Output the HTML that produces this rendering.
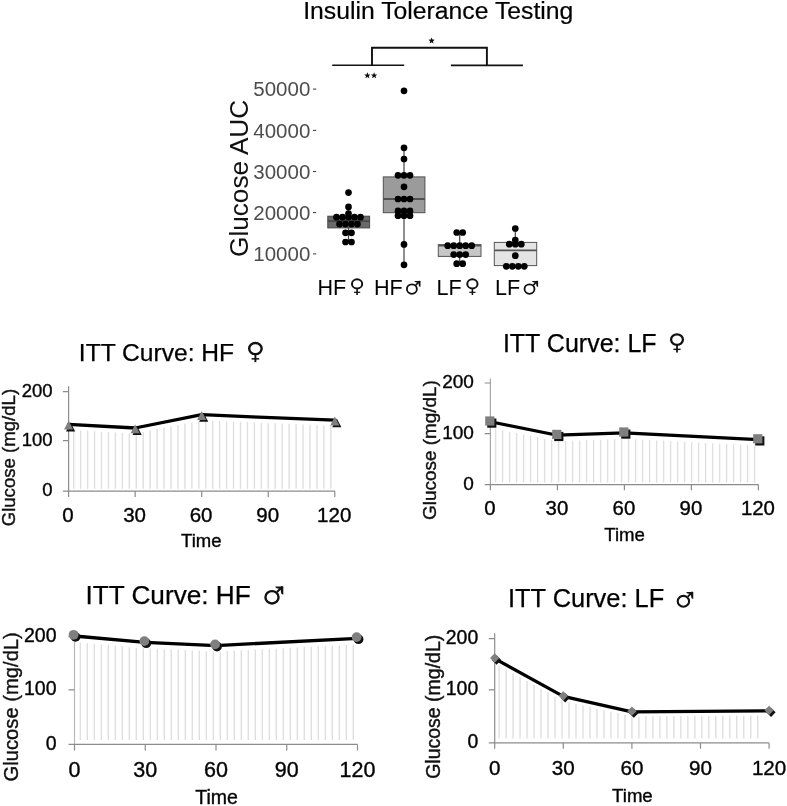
<!DOCTYPE html>
<html><head><meta charset="utf-8"><title>Insulin Tolerance Testing</title>
<style>
html,body{margin:0;padding:0;background:#fff;}
body{width:787px;height:806px;overflow:hidden;font-family:"Liberation Sans",sans-serif;}
svg{display:block;filter:blur(0.45px);}
svg text{font-family:"Liberation Sans",sans-serif;}
</style></head><body>
<svg width="787" height="806" viewBox="0 0 787 806">
<rect width="787" height="806" fill="#fff"/>
<g id="top">
<text x="438.3" y="18.6" font-size="24.75" text-anchor="middle" fill="#000" stroke="#000" stroke-width="0.2">Insulin Tolerance Testing</text>
<g stroke="#111" stroke-width="1.6" fill="none"><path d="M332.2 65.3H404.2"/><path d="M450.9 65.4H522.9"/><path d="M372 65.3V47.8H486.9V65.3" stroke-width="1.9"/></g>
<polygon points="431.60,37.50 432.48,39.59 434.74,39.78 433.03,41.26 433.54,43.47 431.60,42.30 429.66,43.47 430.17,41.26 428.46,39.78 430.72,39.59" fill="#111"/>
<polygon points="367.40,72.30 368.28,74.39 370.54,74.58 368.83,76.06 369.34,78.27 367.40,77.10 365.46,78.27 365.97,76.06 364.26,74.58 366.52,74.39" fill="#111"/>
<polygon points="374.10,72.30 374.98,74.39 377.24,74.58 375.53,76.06 376.04,78.27 374.10,77.10 372.16,78.27 372.67,76.06 370.96,74.58 373.22,74.39" fill="#111"/>
<text transform="translate(247.6,178.4) rotate(-90)" font-size="26.2" text-anchor="middle" fill="#111">Glucose AUC</text>
<text x="310.3" y="96.39999999999999" font-size="20.5" text-anchor="end" fill="#4d4d4d" >50000</text>
<path d="M313 89.1H316.2" stroke="#444" stroke-width="1.1"/>
<text x="310.3" y="137.70000000000002" font-size="20.5" text-anchor="end" fill="#4d4d4d" >40000</text>
<path d="M313 130.4H316.2" stroke="#444" stroke-width="1.1"/>
<text x="310.3" y="178.8" font-size="20.5" text-anchor="end" fill="#4d4d4d" >30000</text>
<path d="M313 171.5H316.2" stroke="#444" stroke-width="1.1"/>
<text x="310.3" y="219.9" font-size="20.5" text-anchor="end" fill="#4d4d4d" >20000</text>
<path d="M313 212.6H316.2" stroke="#444" stroke-width="1.1"/>
<text x="310.3" y="261.2" font-size="20.5" text-anchor="end" fill="#4d4d4d" >10000</text>
<path d="M313 253.9H316.2" stroke="#444" stroke-width="1.1"/>
<path d="M348.5 206.9V216.2M348.5 227.9V242" stroke="#444" stroke-width="1.2"/>
<rect x="327.8" y="216.2" width="41.80000000000001" height="11.700000000000017" fill="#6a6a6a" stroke="#474747" stroke-width="1"/>
<path d="M327.8 221.2H369.6" stroke="#474747" stroke-width="1.8"/>
<circle cx="348.5" cy="192.6" r="3.35" fill="#000"/>
<circle cx="348.5" cy="206.9" r="3.35" fill="#000"/>
<circle cx="348.5" cy="213.5" r="3.35" fill="#000"/>
<circle cx="336.5" cy="217.2" r="3.35" fill="#000"/>
<circle cx="342.5" cy="217.2" r="3.35" fill="#000"/>
<circle cx="348.5" cy="217.2" r="3.35" fill="#000"/>
<circle cx="354.5" cy="217.2" r="3.35" fill="#000"/>
<circle cx="360.5" cy="217.2" r="3.35" fill="#000"/>
<circle cx="339.5" cy="224.1" r="3.35" fill="#000"/>
<circle cx="345.5" cy="224.1" r="3.35" fill="#000"/>
<circle cx="351.5" cy="224.1" r="3.35" fill="#000"/>
<circle cx="357.5" cy="224.1" r="3.35" fill="#000"/>
<circle cx="345.5" cy="232.8" r="3.35" fill="#000"/>
<circle cx="351.5" cy="232.8" r="3.35" fill="#000"/>
<circle cx="345.5" cy="242.0" r="3.35" fill="#000"/>
<circle cx="351.5" cy="242.0" r="3.35" fill="#000"/>
<path d="M404 147.8V176.9M404 212.7V264.8" stroke="#444" stroke-width="1.2"/>
<rect x="383.3" y="176.9" width="41.599999999999966" height="35.79999999999998" fill="#9b9b9b" stroke="#505050" stroke-width="1"/>
<path d="M383.3 199.0H424.9" stroke="#505050" stroke-width="1.8"/>
<circle cx="404" cy="90.8" r="3.35" fill="#000"/>
<circle cx="404" cy="147.8" r="3.35" fill="#000"/>
<circle cx="404" cy="159" r="3.35" fill="#000"/>
<circle cx="404" cy="186.8" r="3.35" fill="#000"/>
<circle cx="404" cy="244.4" r="3.35" fill="#000"/>
<circle cx="404" cy="264.8" r="3.35" fill="#000"/>
<circle cx="398.0" cy="175.3" r="3.35" fill="#000"/>
<circle cx="404.0" cy="175.3" r="3.35" fill="#000"/>
<circle cx="410.0" cy="175.3" r="3.35" fill="#000"/>
<circle cx="398.0" cy="199.0" r="3.35" fill="#000"/>
<circle cx="404.0" cy="199.0" r="3.35" fill="#000"/>
<circle cx="410.0" cy="199.0" r="3.35" fill="#000"/>
<circle cx="398.0" cy="210.9" r="3.35" fill="#000"/>
<circle cx="404.0" cy="210.9" r="3.35" fill="#000"/>
<circle cx="410.0" cy="210.9" r="3.35" fill="#000"/>
<circle cx="398.0" cy="215.7" r="3.35" fill="#000"/>
<circle cx="404.0" cy="215.7" r="3.35" fill="#000"/>
<circle cx="410.0" cy="215.7" r="3.35" fill="#000"/>
<path d="M459.7 232.5V244.6M459.7 256.4V263.7" stroke="#444" stroke-width="1.2"/>
<rect x="438.3" y="244.6" width="42.69999999999999" height="11.799999999999983" fill="#c6c6c6" stroke="#555" stroke-width="1"/>
<path d="M438.3 245.6H481.0" stroke="#555" stroke-width="1.8"/>
<circle cx="456.7" cy="232.5" r="3.35" fill="#000"/>
<circle cx="462.7" cy="232.5" r="3.35" fill="#000"/>
<circle cx="447.7" cy="245.7" r="3.35" fill="#000"/>
<circle cx="453.7" cy="245.7" r="3.35" fill="#000"/>
<circle cx="459.7" cy="245.7" r="3.35" fill="#000"/>
<circle cx="465.7" cy="245.7" r="3.35" fill="#000"/>
<circle cx="471.7" cy="245.7" r="3.35" fill="#000"/>
<circle cx="453.7" cy="254.6" r="3.35" fill="#000"/>
<circle cx="459.7" cy="254.6" r="3.35" fill="#000"/>
<circle cx="465.7" cy="254.6" r="3.35" fill="#000"/>
<circle cx="456.7" cy="263.7" r="3.35" fill="#000"/>
<circle cx="462.7" cy="263.7" r="3.35" fill="#000"/>
<path d="M515.3 228.5V242.4M515.3 265.6V266.3" stroke="#444" stroke-width="1.2"/>
<rect x="494.3" y="242.4" width="42.400000000000034" height="23.200000000000017" fill="#e4e4e4" stroke="#555" stroke-width="1"/>
<path d="M494.3 250.3H536.7" stroke="#555" stroke-width="1.8"/>
<circle cx="515.3" cy="228.5" r="3.35" fill="#000"/>
<circle cx="515.3" cy="240" r="3.35" fill="#000"/>
<circle cx="515.3" cy="255.7" r="3.35" fill="#000"/>
<circle cx="509.29999999999995" cy="244.2" r="3.35" fill="#000"/>
<circle cx="515.3" cy="244.2" r="3.35" fill="#000"/>
<circle cx="521.3" cy="244.2" r="3.35" fill="#000"/>
<circle cx="506.29999999999995" cy="266.3" r="3.35" fill="#000"/>
<circle cx="512.3" cy="266.3" r="3.35" fill="#000"/>
<circle cx="518.3" cy="266.3" r="3.35" fill="#000"/>
<circle cx="524.3" cy="266.3" r="3.35" fill="#000"/>
<text x="317.5" y="295.2" font-size="21.6" text-anchor="start" fill="#000" >HF</text>
<g fill="none" stroke="#111"><ellipse cx="357.1" cy="283.9" rx="5.12" ry="4.55" stroke-width="1.97"/><path d="M357.1 288.45V295.01" stroke-width="1.56"/><path d="M353.98 292.31H360.22" stroke-width="1.23"/></g>
<text x="373.9" y="295.2" font-size="21.6" text-anchor="start" fill="#000" >HF</text>
<g stroke="#111" fill="none"><ellipse cx="411.9" cy="289.1" rx="4.98" ry="4.71" stroke-width="1.82"/><path d="M415.70 285.07L419.96 280.97" stroke-width="1.60"/><path d="M414.41 280.89H420.49V287.12L418.97 286.35L418.44 282.94L414.96 282.11Z" fill="#111" stroke="none"/></g>
<text x="436.4" y="295.2" font-size="21.6" text-anchor="start" fill="#000" >LF</text>
<g fill="none" stroke="#111"><ellipse cx="472.4" cy="283.9" rx="5.12" ry="4.55" stroke-width="1.97"/><path d="M472.4 288.45V295.01" stroke-width="1.56"/><path d="M469.28 292.31H475.52" stroke-width="1.23"/></g>
<text x="495.1" y="295.2" font-size="21.6" text-anchor="start" fill="#000" >LF</text>
<g stroke="#111" fill="none"><ellipse cx="529.5" cy="289.1" rx="4.98" ry="4.71" stroke-width="1.82"/><path d="M533.30 285.07L537.56 280.97" stroke-width="1.60"/><path d="M532.01 280.89H538.09V287.12L536.57 286.35L536.04 282.94L532.56 282.11Z" fill="#111" stroke="none"/></g>
</g>
<g id="p1">
<path d="M73.70 430.08V488.80M80.65 430.47V488.80M87.60 430.86V488.80M94.55 431.24V488.80M101.50 431.63V488.80M108.45 432.02V488.80M115.40 432.40V488.80M122.35 432.79V488.80M129.30 433.17V488.80M136.25 433.28V488.80M143.20 431.89V488.80M150.15 430.50V488.80M157.10 429.11V488.80M164.05 427.72V488.80M171.00 426.34V488.80M177.95 424.95V488.80M184.90 423.56V488.80M191.85 422.17V488.80M198.80 420.78V488.80M205.75 420.37V488.80M212.70 420.65V488.80M219.65 420.94V488.80M226.60 421.23V488.80M233.55 421.52V488.80M240.50 421.80V488.80M247.45 422.09V488.80M254.40 422.38V488.80M261.35 422.66V488.80M268.30 422.95V488.80M275.25 423.24V488.80M282.20 423.53V488.80M289.15 423.81V488.80M296.10 424.10V488.80M303.05 424.39V488.80M310.00 424.68V488.80M316.95 424.96V488.80M323.90 425.25V488.80M330.85 425.54V488.80" stroke="#dfdfdf" stroke-width="1.4" fill="none"/>
<path d="M68.6 386.2V491.2" stroke="#8c8c8c" stroke-width="1.2" fill="none"/>
<path d="M68.6 491.2V496.9M62.89999999999999 491.2H334.79999999999995M62.89999999999999 391.6H68.6M62.89999999999999 440.6H68.6M135.15 491.2V496.9M201.70 491.2V496.9M268.25 491.2V496.9M334.80 491.2V496.9" stroke="#8c8c8c" stroke-width="1.2" fill="none"/>
<polyline points="68.60,424.30 135.15,428.00 201.70,414.70 334.80,420.20" fill="none" stroke="#000" stroke-width="3.3" stroke-linejoin="round" stroke-linecap="round"/>
<path d="M70.60 422.60L75.18 431.40H66.02Z" fill="#111"/>
<path d="M68.60 420.70L73.18 429.50H64.02Z" fill="#7f7f7f"/>
<path d="M137.15 426.30L141.73 435.10H132.57Z" fill="#111"/>
<path d="M135.15 424.40L139.73 433.20H130.57Z" fill="#7f7f7f"/>
<path d="M203.70 413.00L208.28 421.80H199.12Z" fill="#111"/>
<path d="M201.70 411.10L206.28 419.90H197.12Z" fill="#7f7f7f"/>
<path d="M336.80 418.50L341.38 427.30H332.22Z" fill="#111"/>
<path d="M334.80 416.60L339.38 425.40H330.22Z" fill="#7f7f7f"/>
<text x="52.6" y="396.6" font-size="18.5" text-anchor="end" fill="#000" stroke="#111" stroke-width="0.4">200</text>
<text x="52.6" y="445.6" font-size="18.5" text-anchor="end" fill="#000" stroke="#111" stroke-width="0.4">100</text>
<text x="52.6" y="496.2" font-size="18.5" text-anchor="end" fill="#000" stroke="#111" stroke-width="0.4">0</text>
<text x="68.0" y="522" font-size="20.5" text-anchor="middle" fill="#000" stroke="#111" stroke-width="0.4">0</text>
<text x="134.55" y="522" font-size="20.5" text-anchor="middle" fill="#000" stroke="#111" stroke-width="0.4">30</text>
<text x="201.1" y="522" font-size="20.5" text-anchor="middle" fill="#000" stroke="#111" stroke-width="0.4">60</text>
<text x="267.65" y="522" font-size="20.5" text-anchor="middle" fill="#000" stroke="#111" stroke-width="0.4">90</text>
<text x="334.2" y="522" font-size="20.5" text-anchor="middle" fill="#000" stroke="#111" stroke-width="0.4">120</text>
<text x="201.3" y="547.2" font-size="18.5" text-anchor="middle" fill="#000" stroke="#111" stroke-width="0.4">Time</text>
<text transform="translate(15.0,457.6) rotate(-90)" font-size="18.6" text-anchor="middle" fill="#111" stroke="#111" stroke-width="0.4">Glucose (mg/dL)</text>
<text x="78.8" y="361.0" font-size="24.6" text-anchor="start" fill="#000" stroke="#000" stroke-width="0.25">ITT Curve: HF</text>
<g fill="none" stroke="#111"><ellipse cx="255.4" cy="348.6" rx="6.25" ry="5.55" stroke-width="2.40"/><path d="M255.4 354.15V362.15" stroke-width="1.90"/><path d="M251.60 358.85H259.20" stroke-width="1.50"/></g>
</g>
<g id="p2">
<path d="M495.60 428.84V482.50M502.60 430.24V482.50M509.60 431.64V482.50M516.60 433.04V482.50M523.60 434.44V482.50M530.60 435.84V482.50M537.60 437.24V482.50M544.60 438.64V482.50M551.60 440.04V482.50M558.60 441.16V482.50M565.60 440.91V482.50M572.60 440.66V482.50M579.60 440.40V482.50M586.60 440.15V482.50M593.60 439.90V482.50M600.60 439.65V482.50M607.60 439.40V482.50M614.60 439.15V482.50M621.60 438.90V482.50M628.60 439.01V482.50M635.60 439.37V482.50M642.60 439.72V482.50M649.60 440.08V482.50M656.60 440.43V482.50M663.60 440.79V482.50M670.60 441.14V482.50M677.60 441.50V482.50M684.60 441.85V482.50M691.60 442.21V482.50M698.60 442.57V482.50M705.60 442.92V482.50M712.60 443.28V482.50M719.60 443.63V482.50M726.60 443.99V482.50M733.60 444.34V482.50M740.60 444.70V482.50M747.60 445.05V482.50M754.60 445.41V482.50" stroke="#dfdfdf" stroke-width="1.4" fill="none"/>
<path d="M490.4 378.6V484.6" stroke="#a8a8a8" stroke-width="1.2" fill="none"/>
<path d="M490.4 484.6V490.3M484.7 484.6H758.4M484.7 383.0H490.4M484.7 433.6H490.4M557.40 484.6V490.3M624.40 484.6V490.3M691.40 484.6V490.3M758.40 484.6V490.3" stroke="#8c8c8c" stroke-width="1.2" fill="none"/>
<polyline points="490.40,421.80 557.40,435.20 624.40,432.80 758.40,439.60" fill="none" stroke="#000" stroke-width="3.2" stroke-linejoin="round" stroke-linecap="round"/>
<rect x="487.20" y="418.50" width="9.2" height="9.2" fill="#111"/>
<rect x="485.20" y="416.40" width="9.2" height="9.2" fill="#7f7f7f"/>
<rect x="554.20" y="431.90" width="9.2" height="9.2" fill="#111"/>
<rect x="552.20" y="429.80" width="9.2" height="9.2" fill="#7f7f7f"/>
<rect x="621.20" y="429.50" width="9.2" height="9.2" fill="#111"/>
<rect x="619.20" y="427.40" width="9.2" height="9.2" fill="#7f7f7f"/>
<rect x="755.20" y="436.30" width="9.2" height="9.2" fill="#111"/>
<rect x="753.20" y="434.20" width="9.2" height="9.2" fill="#7f7f7f"/>
<text x="473.9" y="388.1" font-size="19" text-anchor="end" fill="#000" stroke="#111" stroke-width="0.4">200</text>
<text x="473.9" y="438.7" font-size="19" text-anchor="end" fill="#000" stroke="#111" stroke-width="0.4">100</text>
<text x="473.9" y="489.7" font-size="19" text-anchor="end" fill="#000" stroke="#111" stroke-width="0.4">0</text>
<text x="489.9" y="515.4" font-size="20.4" text-anchor="middle" fill="#000" stroke="#111" stroke-width="0.4">0</text>
<text x="556.9" y="515.4" font-size="20.4" text-anchor="middle" fill="#000" stroke="#111" stroke-width="0.4">30</text>
<text x="623.9" y="515.4" font-size="20.4" text-anchor="middle" fill="#000" stroke="#111" stroke-width="0.4">60</text>
<text x="690.9" y="515.4" font-size="20.4" text-anchor="middle" fill="#000" stroke="#111" stroke-width="0.4">90</text>
<text x="757.9" y="515.4" font-size="20.4" text-anchor="middle" fill="#000" stroke="#111" stroke-width="0.4">120</text>
<text x="624.6" y="541.2" font-size="18.6" text-anchor="middle" fill="#000" stroke="#111" stroke-width="0.4">Time</text>
<text transform="translate(436.2,450.1) rotate(-90)" font-size="18.9" text-anchor="middle" fill="#111" stroke="#111" stroke-width="0.4">Glucose (mg/dL)</text>
<text x="502.9" y="352.3" font-size="25.0" text-anchor="start" fill="#000" stroke="#000" stroke-width="0.25">ITT Curve: LF</text>
<g fill="none" stroke="#111"><ellipse cx="677.0" cy="339.6" rx="5.94" ry="5.27" stroke-width="2.28"/><path d="M677.0 344.87V352.47" stroke-width="1.80"/><path d="M673.39 349.34H680.61" stroke-width="1.42"/></g>
</g>
<g id="p3">
<path d="M80.30 642.52V740.10M87.30 643.14V740.10M94.30 643.76V740.10M101.30 644.39V740.10M108.30 645.01V740.10M115.30 645.63V740.10M122.30 646.26V740.10M129.30 646.88V740.10M136.30 647.50V740.10M143.30 648.13V740.10M150.30 648.54V740.10M157.30 648.86V740.10M164.30 649.19V740.10M171.30 649.52V740.10M178.30 649.84V740.10M185.30 650.17V740.10M192.30 650.49V740.10M199.30 650.82V740.10M206.30 651.15V740.10M213.30 651.47V740.10M220.30 651.38V740.10M227.30 651.02V740.10M234.30 650.66V740.10M241.30 650.29V740.10M248.30 649.93V740.10M255.30 649.57V740.10M262.30 649.21V740.10M269.30 648.85V740.10M276.30 648.49V740.10M283.30 648.13V740.10M290.30 647.77V740.10M297.30 647.41V740.10M304.30 647.04V740.10M311.30 646.68V740.10M318.30 646.32V740.10M325.30 645.96V740.10M332.30 645.60V740.10M339.30 645.24V740.10M346.30 644.88V740.10M353.30 644.52V740.10" stroke="#dfdfdf" stroke-width="1.4" fill="none"/>
<path d="M74.5 636V744.4" stroke="#b8b8b8" stroke-width="1.2" fill="none"/>
<path d="M74.5 744.4V750.4M68.5 744.4H357.5M68.5 636.6H74.5M68.5 689.9H74.5M145.25 744.4V750.4M216.00 744.4V750.4M286.75 744.4V750.4M357.50 744.4V750.4" stroke="#8c8c8c" stroke-width="1.2" fill="none"/>
<polyline points="74.50,636.00 145.25,642.30 216.00,645.60 357.50,638.30" fill="none" stroke="#000" stroke-width="3.3" stroke-linejoin="round" stroke-linecap="round"/>
<circle cx="75.50" cy="636.90" r="4.9" fill="#111"/>
<circle cx="73.60" cy="634.80" r="4.9" fill="#7f7f7f"/>
<circle cx="146.25" cy="643.20" r="4.9" fill="#111"/>
<circle cx="144.35" cy="641.10" r="4.9" fill="#7f7f7f"/>
<circle cx="217.00" cy="646.50" r="4.9" fill="#111"/>
<circle cx="215.10" cy="644.40" r="4.9" fill="#7f7f7f"/>
<circle cx="358.50" cy="639.20" r="4.9" fill="#111"/>
<circle cx="356.60" cy="637.10" r="4.9" fill="#7f7f7f"/>
<text x="56.5" y="641.7" font-size="19.5" text-anchor="end" fill="#000" stroke="#111" stroke-width="0.4">200</text>
<text x="56.5" y="695.0" font-size="19.5" text-anchor="end" fill="#000" stroke="#111" stroke-width="0.4">100</text>
<text x="56.5" y="749.5" font-size="19.5" text-anchor="end" fill="#000" stroke="#111" stroke-width="0.4">0</text>
<text x="74.5" y="776.9" font-size="21.5" text-anchor="middle" fill="#000" stroke="#111" stroke-width="0.4">0</text>
<text x="145.25" y="776.9" font-size="21.5" text-anchor="middle" fill="#000" stroke="#111" stroke-width="0.4">30</text>
<text x="216.0" y="776.9" font-size="21.5" text-anchor="middle" fill="#000" stroke="#111" stroke-width="0.4">60</text>
<text x="286.75" y="776.9" font-size="21.5" text-anchor="middle" fill="#000" stroke="#111" stroke-width="0.4">90</text>
<text x="357.5" y="776.9" font-size="21.5" text-anchor="middle" fill="#000" stroke="#111" stroke-width="0.4">120</text>
<text x="216.5" y="804.2" font-size="19.5" text-anchor="middle" fill="#000" stroke="#111" stroke-width="0.4">Time</text>
<text transform="translate(17.5,706.8) rotate(-90)" font-size="20.2" text-anchor="middle" fill="#111" stroke="#111" stroke-width="0.4">Glucose (mg/dL)</text>
<text x="85.4" y="604.3" font-size="26.2" text-anchor="start" fill="#000" stroke="#000" stroke-width="0.25">ITT Curve: HF</text>
<g stroke="#111" fill="none"><ellipse cx="272" cy="597.3" rx="6.55" ry="6.20" stroke-width="2.40"/><path d="M277.00 592.00L282.60 586.60" stroke-width="2.10"/><path d="M275.30 586.50H283.30V594.70L281.30 593.68L280.60 589.20L276.03 588.10Z" fill="#111" stroke="none"/></g>
</g>
<g id="p4">
<path d="M499.10 665.62V738.50M506.09 669.48V738.50M513.08 673.33V738.50M520.07 677.18V738.50M527.06 681.03V738.50M534.05 684.88V738.50M541.04 688.73V738.50M548.03 692.59V738.50M555.02 696.44V738.50M562.01 700.29V738.50M569.00 702.28V738.50M575.99 703.85V738.50M582.98 705.42V738.50M589.97 706.99V738.50M596.96 708.56V738.50M603.95 710.13V738.50M610.94 711.69V738.50M617.93 713.26V738.50M624.92 714.83V738.50M631.91 716.40V738.50M638.90 716.35V738.50M645.89 716.31V738.50M652.88 716.26V738.50M659.87 716.22V738.50M666.86 716.17V738.50M673.85 716.12V738.50M680.84 716.08V738.50M687.83 716.03V738.50M694.82 715.99V738.50M701.81 715.94V738.50M708.80 715.90V738.50M715.79 715.85V738.50M722.78 715.80V738.50M729.77 715.76V738.50M736.76 715.71V738.50M743.75 715.67V738.50M750.74 715.62V738.50M757.73 715.57V738.50" stroke="#dfdfdf" stroke-width="1.4" fill="none"/>
<path d="M494.7 633.3V742.9" stroke="#8c8c8c" stroke-width="1.2" fill="none"/>
<path d="M494.7 742.9V748.8M488.8 742.9H769.0999999999999M488.8 638.7H494.7M488.8 689.9H494.7M563.30 742.9V748.8M631.90 742.9V748.8M700.50 742.9V748.8M769.10 742.9V748.8" stroke="#8c8c8c" stroke-width="1.2" fill="none"/>
<polyline points="494.70,658.60 563.30,696.40 631.90,711.80 769.10,710.90" fill="none" stroke="#000" stroke-width="3.3" stroke-linejoin="round" stroke-linecap="round"/>
<path d="M496.60 655.36L501.24 660.00L496.60 664.64L491.96 660.00Z" fill="#111"/>
<path d="M494.70 653.36L499.34 658.00L494.70 662.64L490.06 658.00Z" fill="#7f7f7f"/>
<path d="M565.20 693.16L569.84 697.80L565.20 702.44L560.56 697.80Z" fill="#111"/>
<path d="M563.30 691.16L567.94 695.80L563.30 700.44L558.66 695.80Z" fill="#7f7f7f"/>
<path d="M633.80 708.56L638.44 713.20L633.80 717.84L629.16 713.20Z" fill="#111"/>
<path d="M631.90 706.56L636.54 711.20L631.90 715.84L627.26 711.20Z" fill="#7f7f7f"/>
<path d="M771.00 707.66L775.64 712.30L771.00 716.94L766.36 712.30Z" fill="#111"/>
<path d="M769.10 705.66L773.74 710.30L769.10 714.94L764.46 710.30Z" fill="#7f7f7f"/>
<text x="478.2" y="643.6" font-size="19.4" text-anchor="end" fill="#000" stroke="#111" stroke-width="0.4">200</text>
<text x="478.2" y="694.8" font-size="19.4" text-anchor="end" fill="#000" stroke="#111" stroke-width="0.4">100</text>
<text x="478.2" y="747.8" font-size="19.4" text-anchor="end" fill="#000" stroke="#111" stroke-width="0.4">0</text>
<text x="494.7" y="775.2" font-size="20.6" text-anchor="middle" fill="#000" stroke="#111" stroke-width="0.4">0</text>
<text x="563.3" y="775.2" font-size="20.6" text-anchor="middle" fill="#000" stroke="#111" stroke-width="0.4">30</text>
<text x="631.9" y="775.2" font-size="20.6" text-anchor="middle" fill="#000" stroke="#111" stroke-width="0.4">60</text>
<text x="700.5" y="775.2" font-size="20.6" text-anchor="middle" fill="#000" stroke="#111" stroke-width="0.4">90</text>
<text x="769.1" y="775.2" font-size="20.6" text-anchor="middle" fill="#000" stroke="#111" stroke-width="0.4">120</text>
<text x="632.4" y="802.0" font-size="18.6" text-anchor="middle" fill="#000" stroke="#111" stroke-width="0.4">Time</text>
<text transform="translate(439.8,706.8) rotate(-90)" font-size="19.5" text-anchor="middle" fill="#111" stroke="#111" stroke-width="0.4">Glucose (mg/dL)</text>
<text x="508.0" y="607.0" font-size="25.4" text-anchor="start" fill="#000" stroke="#000" stroke-width="0.25">ITT Curve: LF</text>
<g stroke="#111" fill="none"><ellipse cx="683.4" cy="601.3" rx="5.70" ry="5.39" stroke-width="2.09"/><path d="M687.75 596.69L692.62 591.99" stroke-width="1.83"/><path d="M686.27 591.90H693.23V599.04L691.49 598.15L690.88 594.25L686.91 593.30Z" fill="#111" stroke="none"/></g>
</g>
</svg>
</body></html>
